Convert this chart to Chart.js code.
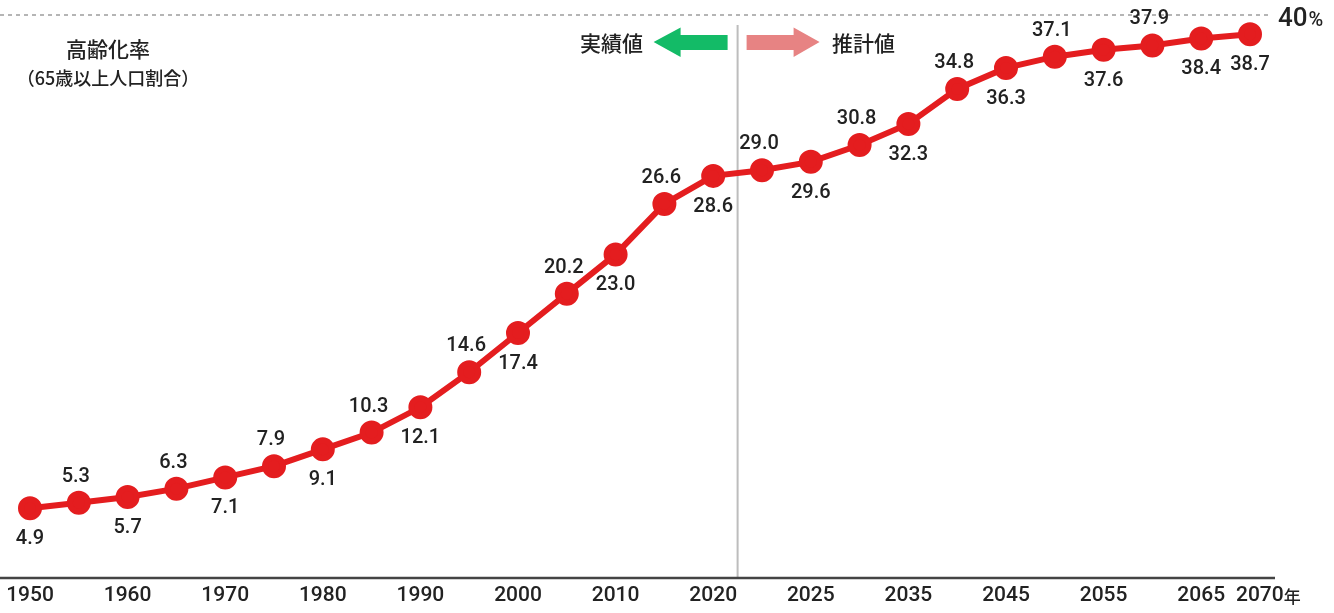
<!DOCTYPE html>
<html lang="ja">
<head>
<meta charset="UTF-8">
<title>高齢化率の推移</title>
<script src="https://cdn.jsdelivr.net/npm/chart.js@4.4.1/dist/chart.umd.min.js"></script>
<style>
    html, body { margin: 0; padding: 0; background: #fff; }
    #wrap { position: relative; width: 1334px; height: 613px; }
</style>
</head>
<body>
<div id="wrap"><canvas id="agingChart" width="1334" height="613"></canvas></div>
<script>
// データ
const years = ['1950', '1955', '1960', '1965', '1970', '1975', '1980', '1985', '1990', '1995',
    '2000', '2005', '2010', '2015', '2020', '2022', '2025', '2030', '2035', '2040',
    '2045', '2050', '2055', '2060', '2065', '2070'];
const agingRate = [4.9, 5.3, 5.7, 6.3, 7.1, 7.9, 9.1, 10.3, 12.1, 14.6,
    17.4, 20.2, 23.0, 26.6, 28.6, 29.0, 29.6, 30.8, 32.3, 34.8,
    36.3, 37.1, 37.6, 37.9, 38.4, 38.7];
// 軸に表示するラベル（空文字は非表示）
const tickLabels = ['1950', '', '1960', '', '1970', '', '1980', '', '1990', '',
    '2000', '', '2010', '', '2020', '', '2025', '', '2035', '',
    '2045', '', '2055', '', '2065', '2070年'];
// ラベルの位置（上 / 下）
const labelSide = ['below', 'above', 'below', 'above', 'below', 'above', 'below', 'above', 'below', 'above',
    'below', 'above', 'below', 'above', 'below', 'above', 'below', 'above', 'below', 'above',
    'below', 'above', 'below', 'above', 'below', 'below'];
const yMax = 40;
const actualLastIndex = 14; // 実績値の最後（2020年）

const RED = '#e41d1f';
const TEXT = '#222222';
const NUM_FONT = 'Roboto, "Noto Sans CJK JP", sans-serif';
const JP_FONT = '"Noto Sans CJK JP", sans-serif';

// 装飾用プラグイン
const decorPlugin = {
    id: 'decor',
    beforeDatasetsDraw(chart) {
        const { ctx, chartArea, scales } = chart;
        const x = scales.x, y = scales.y;
        ctx.save();

        // 上端の点線（40%）
        const yTop = y.getPixelForValue(yMax) - 1;
        ctx.strokeStyle = '#b5b5b5';
        ctx.lineWidth = 2;
        ctx.setLineDash([4, 4]);
        ctx.beginPath();
        ctx.moveTo(0, yTop);
        ctx.lineTo(1272, yTop);
        ctx.stroke();
        ctx.setLineDash([]);

        // 実績値と推計値の境界線
        const xSplit = (x.getPixelForValue(actualLastIndex) + x.getPixelForValue(actualLastIndex + 1)) / 2;
        ctx.strokeStyle = '#bdbdbd';
        ctx.lineWidth = 2;
        ctx.beginPath();
        ctx.moveTo(xSplit, 25);
        ctx.lineTo(xSplit, chartArea.bottom);
        ctx.stroke();

        // x軸
        ctx.strokeStyle = '#444444';
        ctx.lineWidth = 2.5;
        ctx.beginPath();
        ctx.moveTo(0, chartArea.bottom + 1);
        ctx.lineTo(1275, chartArea.bottom + 1);
        ctx.stroke();

        // 矢印（実績値 ←）
        const ay = 42;
        ctx.fillStyle = '#13bb67';
        ctx.beginPath();
        ctx.moveTo(xSplit - 84, ay);
        ctx.lineTo(xSplit - 57, ay - 14.5);
        ctx.lineTo(xSplit - 57, ay - 7);
        ctx.lineTo(xSplit - 10, ay - 7);
        ctx.lineTo(xSplit - 10, ay + 8);
        ctx.lineTo(xSplit - 57, ay + 8);
        ctx.lineTo(xSplit - 57, ay + 15);
        ctx.closePath();
        ctx.fill();

        // 矢印（→ 推計値）
        ctx.fillStyle = '#e78383';
        ctx.beginPath();
        ctx.moveTo(xSplit + 82, ay);
        ctx.lineTo(xSplit + 56, ay - 14.5);
        ctx.lineTo(xSplit + 56, ay - 7);
        ctx.lineTo(xSplit + 9, ay - 7);
        ctx.lineTo(xSplit + 9, ay + 8);
        ctx.lineTo(xSplit + 56, ay + 8);
        ctx.lineTo(xSplit + 56, ay + 15);
        ctx.closePath();
        ctx.fill();

        ctx.fillStyle = TEXT;
        ctx.textBaseline = 'middle';
        ctx.textAlign = 'center';
        ctx.font = '500 21px ' + JP_FONT;
        ctx.fillText('実績値', xSplit - 126, 43);
        ctx.fillText('推計値', xSplit + 126, 43);

        // 左上の見出し
        ctx.font = '500 21px ' + JP_FONT;
        ctx.fillText('高齢化率', 108, 49);
        ctx.font = '500 18px ' + JP_FONT;
        ctx.fillText('（65歳以上人口割合）', 108, 78);

        // 40%
        ctx.textAlign = 'left';
        ctx.font = '500 26px ' + NUM_FONT;
        ctx.fillText('40', 1278, 19);
        const w40 = ctx.measureText('40').width;
        ctx.font = '500 20px ' + NUM_FONT;
        ctx.fillText('%', 1278 + w40 + 1, 21);

        // x軸ラベル
        ctx.textAlign = 'center';
        ctx.font = '500 21px ' + NUM_FONT;
        tickLabels.forEach((label, i) => {
            if (!label) return;
            const px = x.getPixelForValue(i);
            if (label.endsWith('年')) {
                // 「年」を小さく付ける
                ctx.textAlign = 'left';
                const numPart = label.slice(0, -1);
                const start = px - 14;
                ctx.font = '500 21px ' + NUM_FONT;
                ctx.fillText(numPart, start, 596);
                const wn = ctx.measureText(numPart).width;
                ctx.font = '500 17px ' + JP_FONT;
                ctx.fillText('年', start + wn, 597);
                ctx.textAlign = 'center';
                ctx.font = '500 21px ' + NUM_FONT;
                return;
            }
            ctx.fillText(label, px, 596);
        });

        ctx.restore();
    },
    afterDatasetsDraw(chart) {
        // データラベル
        const { ctx } = chart;
        const meta = chart.getDatasetMeta(0);
        ctx.save();
        ctx.fillStyle = TEXT;
        ctx.font = '500 20px ' + NUM_FONT;
        ctx.textAlign = 'center';
        ctx.textBaseline = 'middle';
        meta.data.forEach((pt, i) => {
            const above = labelSide[i] === 'above';
            const dy = above ? -26 : 31;
            const dx = above ? -3 : 0;
            ctx.fillText(agingRate[i].toFixed(1), pt.x + dx, pt.y + dy);
        });
        ctx.restore();
    }
};

const ctx = document.getElementById('agingChart').getContext('2d');
new Chart(ctx, {
    type: 'line',
    data: {
        labels: years,
        datasets: [{
            data: agingRate,
            borderColor: RED,
            backgroundColor: RED,
            pointBackgroundColor: RED,
            pointBorderColor: RED,
            borderWidth: 6,
            pointRadius: 9,
            pointHoverRadius: 9,
            tension: 0,
            fill: false
        }]
    },
    options: {
        responsive: false,
        animation: false,
        layout: {
            padding: { left: 30, right: 84, top: 16, bottom: 36 }
        },
        plugins: {
            legend: { display: false },
            tooltip: { enabled: false }
        },
        scales: {
            x: {
                display: false,
                offset: false
            },
            y: {
                display: false,
                min: 0,
                max: yMax
            }
        }
    },
    plugins: [decorPlugin]
});
</script>
</body>
</html>
